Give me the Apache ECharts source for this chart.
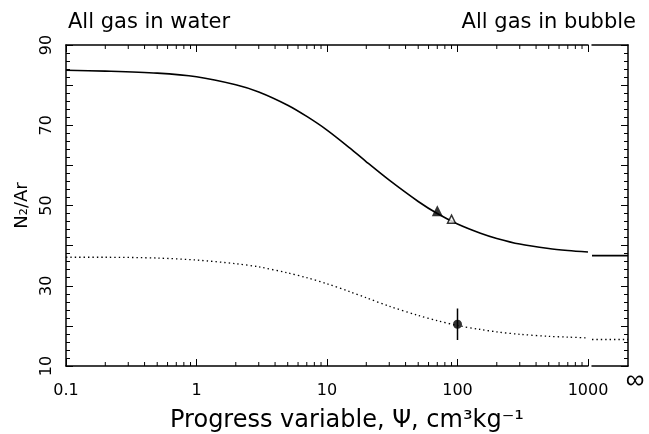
<!DOCTYPE html>
<html>
<head>
<meta charset="utf-8">
<script src="https://cdn.jsdelivr.net/npm/echarts@6/dist/echarts.min.js"></script>
<style>html,body{margin:0;padding:0;background:#fff}#c{width:649px;height:434px}</style>
</head>
<body>
<div id="c"></div>
<script>
// ---- data ----
const psi = [0.1, 0.2, 0.5, 1, 2, 3, 5, 7, 10, 15, 20, 30, 50, 70, 100, 150, 200, 300, 500, 700, 1000];
const bubbleRatio = [83.7, 83.5, 83.0, 82.1, 80.1, 78.3, 75.0, 72.2, 68.8, 64.3, 60.9, 56.3, 51.0, 48.0, 45.4, 43.1, 41.8, 40.4, 39.3, 38.8, 38.4];
const waterRatio = [37.1, 37.1, 36.9, 36.4, 35.5, 34.7, 33.2, 32.0, 30.5, 28.5, 27.0, 24.9, 22.6, 21.3, 20.1, 19.1, 18.5, 17.9, 17.4, 17.2, 17.0];
const bubbleInf = 37.5;
const waterInf = 16.6;
const filledTri = [70, 48.7];
const openTri = [90, 46.6];
const circlePt = [100, 20.4];
const circleErr = [16.5, 24.3];
const xTickLabels = ['0.1', '1', '10', '100', '1000'];
const yTickLabels = [10, 30, 50, 70, 90];
const decades = [0.1, 1, 10, 100];
const minorTicks = [];
decades.forEach(d => { for (let k = 2; k <= 9; k++) minorTicks.push(+(d * k).toPrecision(3)); });

const FONT = 'DejaVu Sans';
const chart = echarts.init(document.getElementById('c'), null, {renderer: 'canvas'});

const yCommon = {
  type: 'value', min: 10, max: 90, interval: 10,
  splitLine: {show: false},
  axisLine: {show: true, onZero: false, lineStyle: {color: '#000', width: 1.5}},
  axisTick: {show: true, inside: true, length: 7, lineStyle: {color: '#000', width: 1}},
  minorTick: {show: true, splitNumber: 5, length: 4, lineStyle: {color: '#000', width: 1}},
  minorSplitLine: {show: false}
};

chart.setOption({
  animation: false,
  backgroundColor: '#fff',
  title: [
    {text: 'All gas in water', left: 63, top: 7, textStyle: {fontFamily: FONT, fontSize: 21, fontWeight: 'normal', color: '#000'}},
    {text: 'All gas in bubble', right: 8, top: 7, textStyle: {fontFamily: FONT, fontSize: 21, fontWeight: 'normal', color: '#000'}}
  ],
  grid: [
    {left: 66, top: 45, width: 522, height: 321, containLabel: false, outerBoundsMode: 'none'},
    {left: 592, top: 45, width: 36, height: 321, containLabel: false, outerBoundsMode: 'none'}
  ],
  xAxis: [
    {
      type: 'log', logBase: 10, min: 0.1, max: 1000, gridIndex: 0, position: 'bottom',
      splitLine: {show: false},
      axisLine: {show: true, onZero: false, lineStyle: {color: '#000', width: 1.5}},
      axisTick: {show: true, inside: true, length: 7, lineStyle: {color: '#000', width: 1}},
      axisLabel: {show: true, margin: 17, fontFamily: FONT, fontSize: 16, color: '#000',
        formatter: v => { const s = String(+v.toPrecision(3)); return xTickLabels.includes(s) ? s : ''; }}
    },
    {
      type: 'log', logBase: 10, min: 0.1, max: 1000, gridIndex: 0, position: 'top',
      splitLine: {show: false},
      axisLine: {show: true, onZero: false, lineStyle: {color: '#000', width: 1.5}},
      axisTick: {show: true, inside: true, length: 7, lineStyle: {color: '#000', width: 1}},
      axisLabel: {show: false}
    },
    {
      type: 'value', min: 0, max: 1, gridIndex: 1, position: 'bottom',
      splitLine: {show: false},
      axisLine: {show: true, onZero: false, lineStyle: {color: '#000', width: 1.5}},
      axisTick: {show: false}, axisLabel: {show: false}
    },
    {
      type: 'value', min: 0, max: 1, gridIndex: 1, position: 'top',
      splitLine: {show: false},
      axisLine: {show: true, onZero: false, lineStyle: {color: '#000', width: 1.5}},
      axisTick: {show: false}, axisLabel: {show: false}
    }
  ],
  yAxis: [
    Object.assign({}, yCommon, {
      gridIndex: 0, position: 'left',
      axisLabel: {show: true, rotate: 90, margin: 11, fontFamily: FONT, fontSize: 16, color: '#000',
        formatter: v => yTickLabels.includes(v) ? String(v) : ''},
      name: 'N₂/Ar', nameLocation: 'middle', nameGap: 34,
      nameTextStyle: {fontFamily: FONT, fontSize: 18, color: '#000'}
    }),
    Object.assign({}, yCommon, {
      gridIndex: 1, position: 'right',
      axisLabel: {show: false}
    })
  ],
  graphic: [
    {type: 'text', x: 635, y: 381, style: {text: '∞', font: '26px "Liberation Sans"', fill: '#000', textAlign: 'center', textVerticalAlign: 'middle'}},
    {type: 'text', x: 347, y: 421, style: {text: 'Progress variable, Ψ, cm³kg⁻¹', font: '24px "DejaVu Sans"', fill: '#000', textAlign: 'center', textVerticalAlign: 'middle'}}
  ],
  series: [
    {
      name: 'bubble', type: 'line', xAxisIndex: 0, yAxisIndex: 0, smooth: 0.3, symbol: 'none',
      lineStyle: {color: '#000', width: 1.6},
      data: psi.map((x, i) => [x, bubbleRatio[i]])
    },
    {
      name: 'water', type: 'line', xAxisIndex: 0, yAxisIndex: 0, smooth: 0.3, symbol: 'none',
      lineStyle: {color: '#000', width: 1.3, type: [1.4, 3]},
      data: psi.map((x, i) => [x, waterRatio[i]])
    },
    {
      name: 'bubbleInf', type: 'line', xAxisIndex: 2, yAxisIndex: 1, symbol: 'none',
      lineStyle: {color: '#000', width: 1.6},
      data: [[0, bubbleInf], [1, bubbleInf]]
    },
    {
      name: 'waterInf', type: 'line', xAxisIndex: 2, yAxisIndex: 1, symbol: 'none',
      lineStyle: {color: '#000', width: 1.3, type: [1.4, 3]},
      data: [[0, waterInf], [1, waterInf]]
    },
    {
      name: 'err', type: 'line', xAxisIndex: 0, yAxisIndex: 0, symbol: 'none',
      lineStyle: {color: '#000', width: 1.5},
      data: [[circlePt[0], circleErr[0]], [circlePt[0], circleErr[1]]]
    },
    {
      name: 'filledTri', type: 'scatter', xAxisIndex: 0, yAxisIndex: 0, symbol: 'triangle', symbolSize: 11,
      itemStyle: {color: '#000'}, data: [filledTri], z: 5
    },
    {
      name: 'openTri', type: 'scatter', xAxisIndex: 0, yAxisIndex: 0, symbol: 'triangle', symbolSize: 8,
      itemStyle: {color: '#fff', borderColor: '#000', borderWidth: 1.5}, data: [openTri], z: 5
    },
    {
      name: 'circle', type: 'scatter', xAxisIndex: 0, yAxisIndex: 0, symbol: 'circle', symbolSize: 9,
      itemStyle: {color: '#000'}, data: [circlePt], z: 5
    },
    {
      name: 'minorTicks', type: 'custom', xAxisIndex: 0, yAxisIndex: 0, silent: true, clip: false,
      data: minorTicks.map(v => [v, 50]),
      renderItem: (params, api) => {
        const v = api.value(0);
        const b = api.coord([v, 10]);
        const t = api.coord([v, 90]);
        return {type: 'group', children: [
          {type: 'line', shape: {x1: b[0], y1: b[1], x2: b[0], y2: b[1] - 4}, style: {stroke: '#000', lineWidth: 1}},
          {type: 'line', shape: {x1: t[0], y1: t[1], x2: t[0], y2: t[1] + 4}, style: {stroke: '#000', lineWidth: 1}}
        ]};
      }
    }
  ]
});
</script>
</body>
</html>
